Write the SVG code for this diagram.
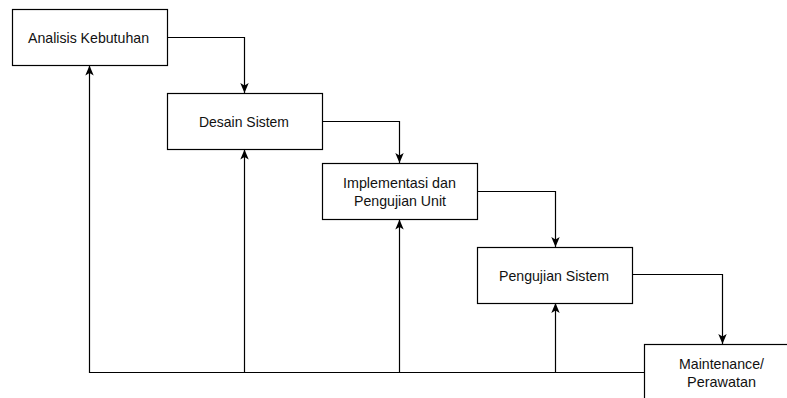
<svg xmlns="http://www.w3.org/2000/svg" width="787" height="398" viewBox="0 0 787 398">
  <style>
    .box { fill: #ffffff; stroke: #000000; stroke-width: 1.2; }
    .lbl { font-family: "Liberation Sans", Arial, sans-serif; font-size: 15px; fill: #111111; text-anchor: middle; }
    .edge { fill: none; stroke: #000000; stroke-width: 1.2; }
    .arr { marker-end: url(#arrow); }
  </style>
  <defs>
    <marker id="arrow" viewBox="0 0 10 10" refX="10" refY="5" markerWidth="10" markerHeight="10" orient="auto" markerUnits="userSpaceOnUse">
      <path d="M0,0.8 L10,5 L0,9.2 L2.5,5 Z" fill="#000000"/>
    </marker>
  </defs>

  <g id="connectors">
    <path class="edge arr" d="M167.5,37.5 H244.5 V93"/>
    <path class="edge arr" d="M322.5,121.5 H399.5 V163"/>
    <path class="edge arr" d="M477.5,191.5 H555.5 V247"/>
    <path class="edge arr" d="M632.5,274.5 H722.5 V344"/>
    <path class="edge arr" d="M644,372.5 H89.5 V65.5"/>
    <path class="edge arr" d="M244.5,372.5 V149.5"/>
    <path class="edge arr" d="M399.5,372.5 V219.5"/>
    <path class="edge arr" d="M555.5,372.5 V303"/>
  </g>

  <g id="analisis">
    <rect class="box" x="12.5" y="9.5" width="155" height="56"/>
    <text class="lbl" x="88.5" y="43" textLength="121" lengthAdjust="spacingAndGlyphs">Analisis Kebutuhan</text>
  </g>
  <g id="desain">
    <rect class="box" x="167.5" y="93.5" width="155" height="56"/>
    <text class="lbl" x="244" y="127" textLength="90" lengthAdjust="spacingAndGlyphs">Desain Sistem</text>
  </g>
  <g id="implementasi">
    <rect class="box" x="322.5" y="163.5" width="155" height="56"/>
    <text class="lbl" x="399.5" y="187.5" textLength="113" lengthAdjust="spacingAndGlyphs">Implementasi dan</text>
    <text class="lbl" x="400" y="206" textLength="92" lengthAdjust="spacingAndGlyphs">Pengujian Unit</text>
  </g>
  <g id="pengujian">
    <rect class="box" x="477.5" y="247.5" width="155" height="56"/>
    <text class="lbl" x="554" y="280.5" textLength="110" lengthAdjust="spacingAndGlyphs">Pengujian Sistem</text>
  </g>
  <g id="maintenance">
    <rect class="box" x="644.5" y="344.5" width="155" height="60"/>
    <text class="lbl" x="721.5" y="368.5" textLength="85" lengthAdjust="spacingAndGlyphs">Maintenance/</text>
    <text class="lbl" x="721.5" y="387" textLength="69" lengthAdjust="spacingAndGlyphs">Perawatan</text>
  </g>
</svg>
